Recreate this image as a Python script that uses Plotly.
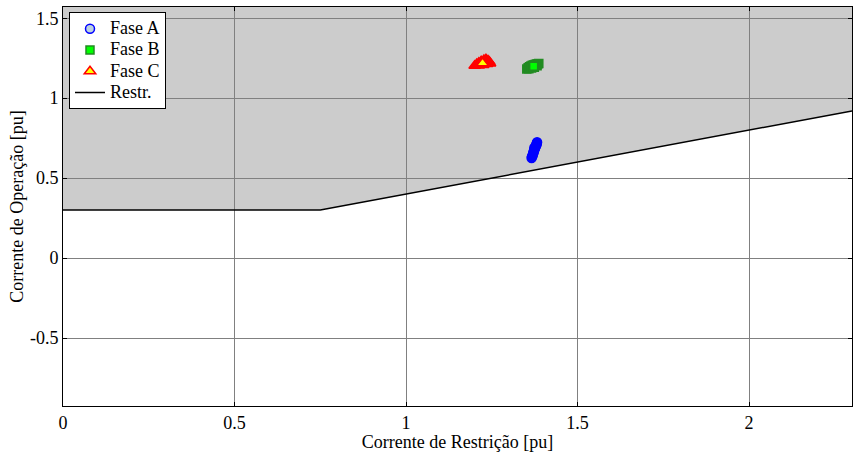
import plotly.graph_objects as go

# ---- data ----
restr_x = [0.0, 0.75, 2.3]
restr_y = [0.3, 0.3, 0.92]

xa = [1.366, 1.367, 1.369, 1.370, 1.371, 1.372, 1.373, 1.375, 1.376, 1.377, 1.379, 1.380, 1.381, 1.382]
ya = [0.626, 0.634, 0.642, 0.650, 0.657, 0.665, 0.672, 0.680, 0.688, 0.695, 0.703, 0.710, 0.717, 0.724]
xa_last = [1.374]
ya_last = [0.690]

xb = [1.352, 1.356, 1.360, 1.364, 1.368, 1.372, 1.376, 1.380, 1.384, 1.387, 1.358, 1.366, 1.374, 1.382]
yb = [1.183, 1.190, 1.196, 1.201, 1.205, 1.208, 1.211, 1.213, 1.214, 1.216, 1.184, 1.188, 1.194, 1.202]
xb_last = [1.372]
yb_last = [1.200]

xc = [1.200, 1.206, 1.212, 1.219, 1.227, 1.233, 1.239, 1.243, 1.245, 1.212, 1.225, 1.236]
yc = [1.203, 1.213, 1.222, 1.231, 1.238, 1.243, 1.236, 1.227, 1.217, 1.204, 1.208, 1.213]
xc_last = [1.223]
yc_last = [1.219]

x_ticks = [0, 0.5, 1, 1.5, 2]
y_ticks = [-0.5, 0, 0.5, 1, 1.5]
x_range = [0, 2.3]
y_range = [-0.925, 1.57]

FONT = "Liberation Serif"
FS = 18


def lg(name):
    return f'<span style="font-size:{FS}px">{name}</span>'


fig = go.Figure()

# gray operation region (above the restraint characteristic)
path = "M " + " L ".join(f"{x},{y}" for x, y in zip(restr_x, restr_y))
path += f" L {restr_x[-1]},{y_range[1]} L {restr_x[0]},{y_range[1]} Z"
fig.add_shape(type="path", path=path, xref="x", yref="y",
              fillcolor="#cccccc", line=dict(width=0), layer="below")

# Fase A: legend marker beneath, solid blob on top
fig.add_trace(go.Scatter(x=xa_last, y=ya_last, mode="markers", name=lg("Fase A"),
                         marker=dict(symbol="circle", size=9, color="#bcd2e0",
                                     line=dict(color="#0000ff", width=1.5)),
                         legendrank=1))
fig.add_trace(go.Scatter(x=xa, y=ya, mode="markers", showlegend=False,
                         marker=dict(symbol="circle", size=9, color="#0000ff",
                                     line=dict(color="#0000ff", width=1.5))))

# Fase B
fig.add_trace(go.Scatter(x=xb, y=yb, mode="markers", showlegend=False,
                         marker=dict(symbol="square", size=8, color="#228b22",
                                     line=dict(color="#228b22", width=1.5))))
fig.add_trace(go.Scatter(x=xb_last, y=yb_last, mode="markers", name=lg("Fase B"),
                         marker=dict(symbol="square", size=8, color="#00ff00",
                                     line=dict(color="#228b22", width=1.5)),
                         legendrank=2))

# Fase C
fig.add_trace(go.Scatter(x=xc, y=yc, mode="markers", showlegend=False,
                         marker=dict(symbol="triangle-up", size=10, color="#ff0000",
                                     line=dict(color="#ff0000", width=1.5))))
fig.add_trace(go.Scatter(x=xc_last, y=yc_last, mode="markers", name=lg("Fase C"),
                         marker=dict(symbol="triangle-up", size=10, color="#ffff00",
                                     line=dict(color="#ff0000", width=1.5)),
                         legendrank=3))

# Restraint characteristic
fig.add_trace(go.Scatter(x=restr_x, y=restr_y, mode="lines", name=lg("Restr."),
                         line=dict(color="black", width=1.5), legendrank=4))

axis_common = dict(showgrid=True, gridcolor="#808080", gridwidth=1,
                   zeroline=False, showline=True, linecolor="black", linewidth=1,
                   mirror="ticks", ticks="inside", ticklen=4, tickcolor="black",
                   tickfont=dict(family=FONT, size=FS, color="black"))

fig.update_xaxes(range=x_range, tickvals=x_ticks, ticktext=[str(v) for v in x_ticks],
                 title=dict(text="Corrente de Restrição [pu]", standoff=0,
                            font=dict(family=FONT, size=FS, color="black")),
                 **axis_common)
fig.update_yaxes(range=y_range, tickvals=y_ticks, ticktext=[str(v) for v in y_ticks],
                 title=dict(text="Corrente de Operação [pu]", standoff=1,
                            font=dict(family=FONT, size=FS, color="black")),
                 **axis_common)

fig.update_layout(
    width=855, height=452,
    margin=dict(l=63, r=3, t=7, b=46),
    paper_bgcolor="white", plot_bgcolor="white",
    font=dict(family=FONT, size=FS, color="black"),
    legend=dict(x=0.0076, y=0.987, xanchor="left", yanchor="top",
                bgcolor="white", bordercolor="black", borderwidth=1,
                font=dict(family=FONT, size=14, color="black"),
                itemwidth=30, tracegroupgap=0),
)

fig.write_html("out.html")
